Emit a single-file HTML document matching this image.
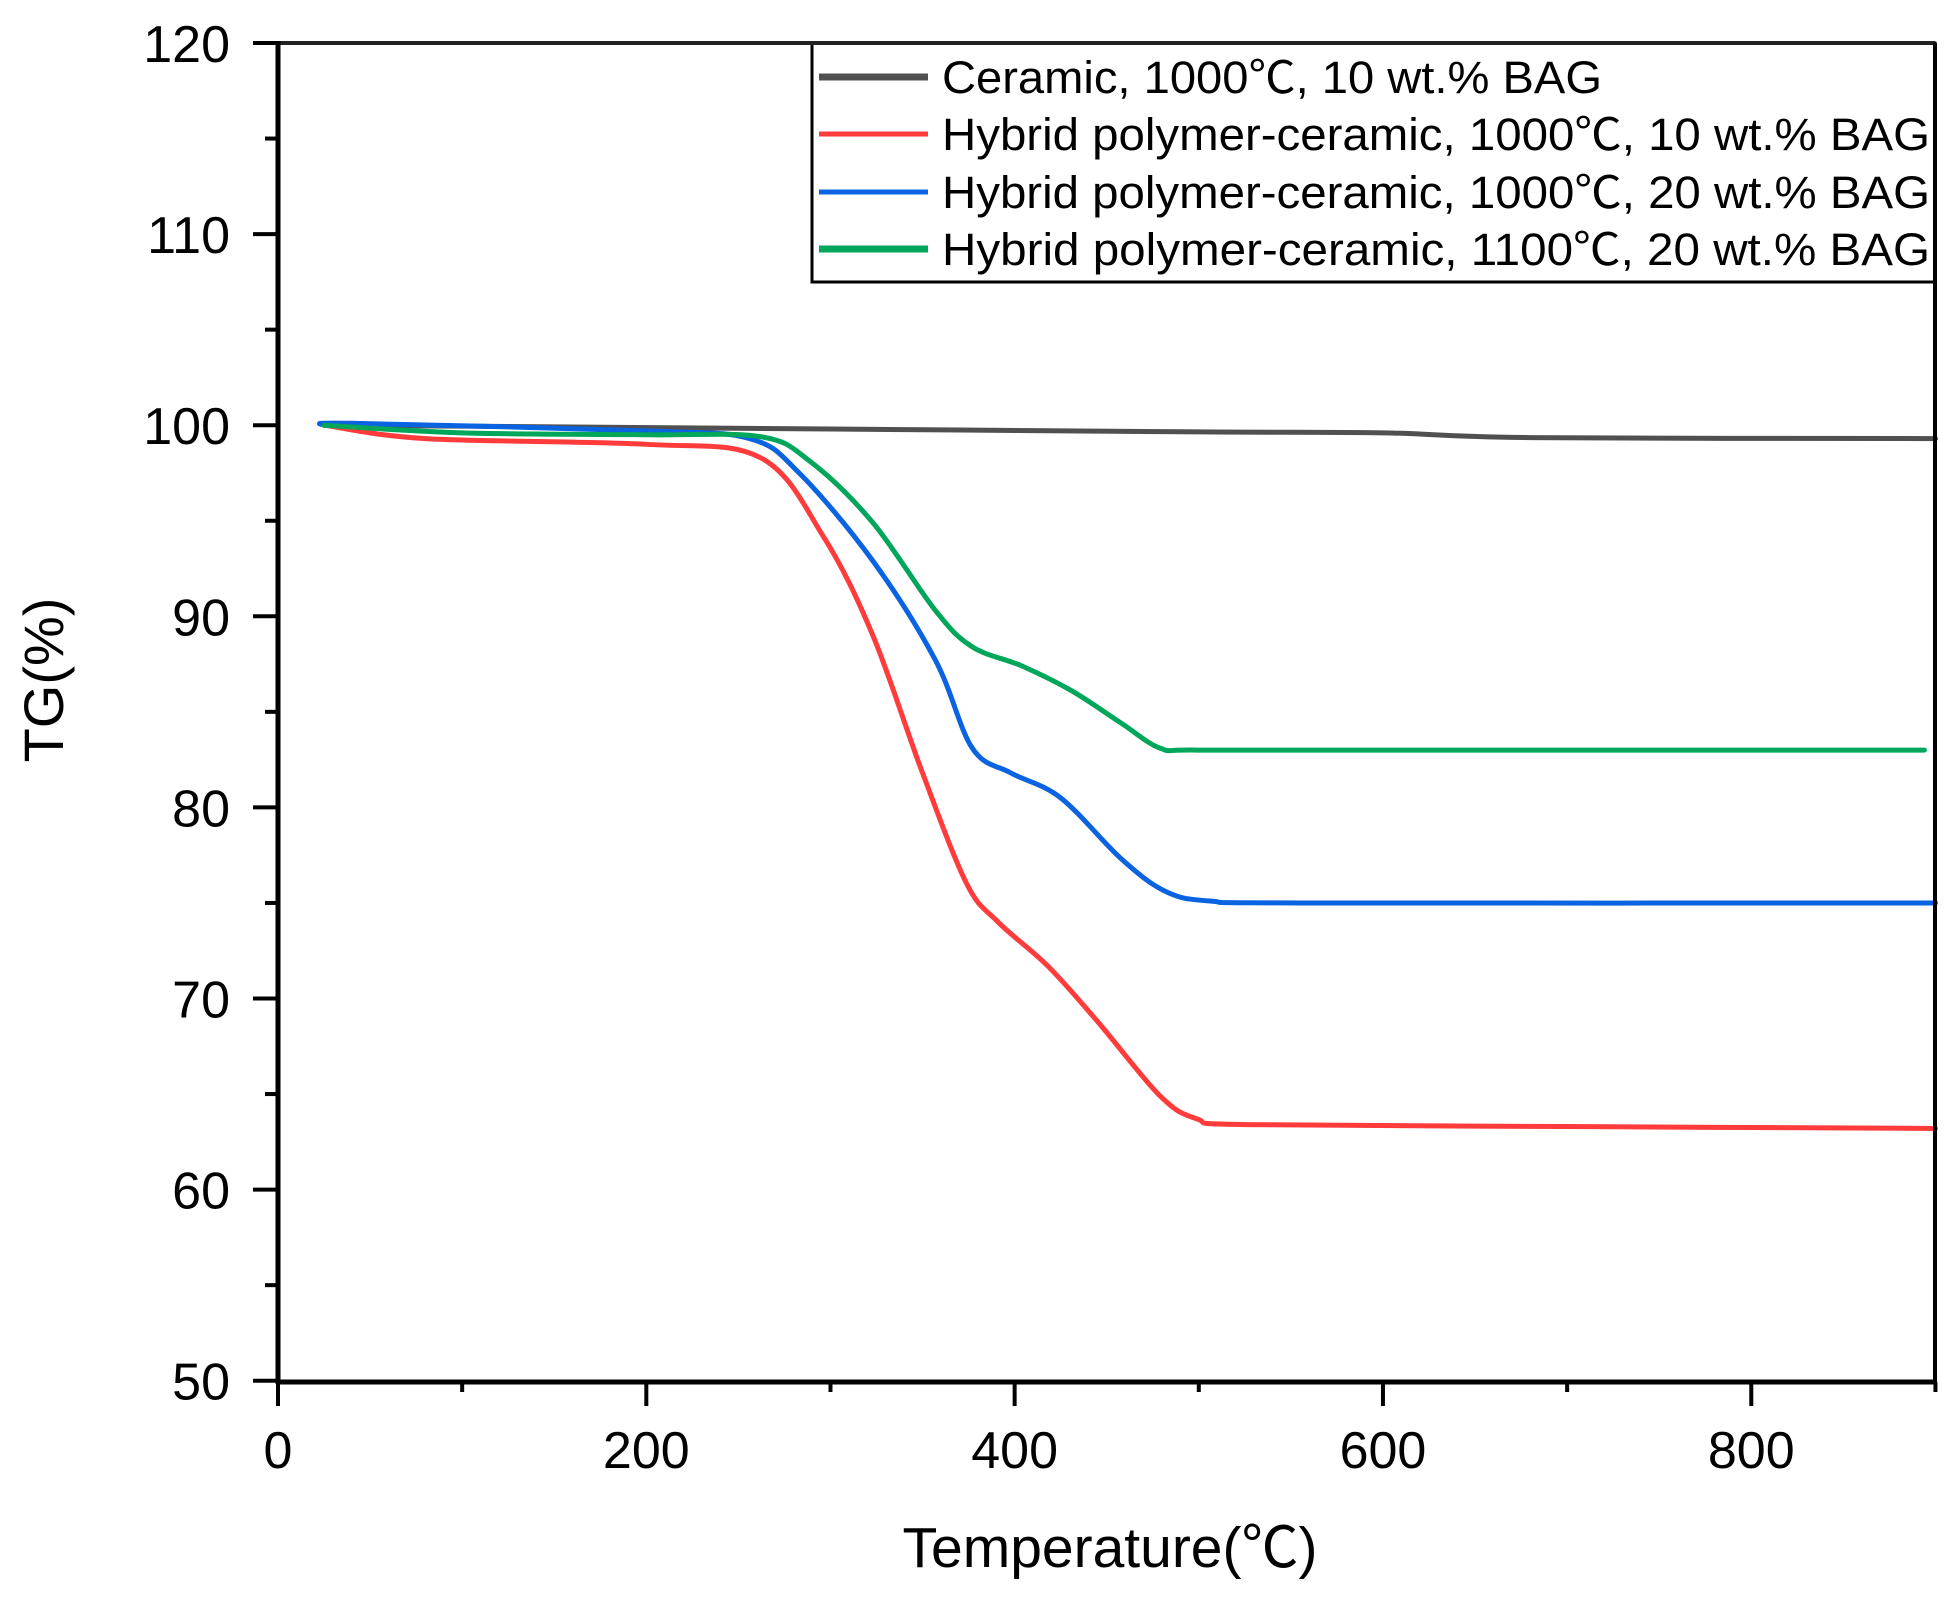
<!DOCTYPE html>
<html><head><meta charset="utf-8"><style>
html,body{margin:0;padding:0;background:#fff;}
svg{display:block;}
text{font-family:"Liberation Sans","Noto Sans CJK SC",sans-serif;fill:#000;}
</style></head><body>
<svg id="s" width="1954" height="1597" viewBox="0 0 1954 1597" xmlns="http://www.w3.org/2000/svg">
<g id="curves" fill="none" stroke-width="5" stroke-linejoin="round" stroke-linecap="round"></g>
<rect x="812" y="43" width="1123" height="239" fill="#fff" stroke="#000" stroke-width="3"/>
<line x1="278" y1="43" x2="1935" y2="43" stroke="#222" stroke-width="4"/>
<line x1="1935" y1="43" x2="1935" y2="1382" stroke="#000" stroke-width="4"/>
<line x1="278" y1="41" x2="278" y2="1384" stroke="#000" stroke-width="5"/>
<line x1="276" y1="1382" x2="1937" y2="1382" stroke="#000" stroke-width="5"/>
<g id="ticks" stroke="#000" stroke-width="4"></g>
<g id="labels" font-size="52"></g>
<text x="1110" y="1567" font-size="57" text-anchor="middle">Temperature(℃)</text>
<text transform="translate(63,680) rotate(-90)" font-size="56" text-anchor="middle">TG(%)</text>
<g stroke-width="7">
<line x1="819" y1="77" x2="928" y2="77" stroke="#505050"/>
<line x1="819" y1="134" x2="928" y2="134" stroke="#ff3b3b" stroke-width="5"/>
<line x1="819" y1="192" x2="928" y2="192" stroke="#0a63e0" stroke-width="5"/>
<line x1="819" y1="249" x2="928" y2="249" stroke="#00a65a"/>
</g>
<g font-size="45">
<text x="942" y="93" textLength="660" lengthAdjust="spacingAndGlyphs">Ceramic, 1000℃, 10 wt.% BAG</text>
<text x="942" y="150" textLength="988" lengthAdjust="spacingAndGlyphs">Hybrid polymer-ceramic, 1000℃, 10 wt.% BAG</text>
<text x="942" y="208" textLength="988" lengthAdjust="spacingAndGlyphs">Hybrid polymer-ceramic, 1000℃, 20 wt.% BAG</text>
<text x="942" y="265" textLength="988" lengthAdjust="spacingAndGlyphs">Hybrid polymer-ceramic, 1100℃, 20 wt.% BAG</text>
</g>
</svg>
<script>
var NS="http://www.w3.org/2000/svg";
function X(t){return 278+t*1.8416;}
function Y(v){return 43+(120-v)*19.11;}
function el(p,tag,a,txt){var e=document.createElementNS(NS,tag);for(var k in a)e.setAttribute(k,a[k]);if(txt!=null)e.textContent=txt;p.appendChild(e);return e;}
var tk=document.getElementById('ticks'),lb=document.getElementById('labels');
for(var v=50;v<=120;v+=5){var maj=v%10==0;el(tk,'line',{x1:278-(maj?25:13),y1:Y(v),x2:278,y2:Y(v)});
 if(maj)el(lb,'text',{x:230,y:Y(v)+19,'text-anchor':'end'},String(v));}
for(var t=0;t<=900;t+=100){var maj=t%200==0;el(tk,'line',{x1:X(t),y1:1382,x2:X(t),y2:1382+(maj?24:10)});
 if(maj)el(lb,'text',{x:X(t),y:1468,'text-anchor':'middle'},String(t));}
function path(pts){var P=pts.map(function(p){return[X(p[0]),Y(p[1])];});var d="M"+P[0][0]+","+P[0][1];
 for(var i=0;i<P.length-1;i++){var p0=P[i-1]||P[i],p1=P[i],p2=P[i+1],p3=P[i+2]||P[i+1];
 d+=" C"+(p1[0]+(p2[0]-p0[0])/6)+","+(p1[1]+(p2[1]-p0[1])/6)+" "+(p2[0]-(p3[0]-p1[0])/6)+","+(p2[1]-(p3[1]-p1[1])/6)+" "+p2[0]+","+p2[1];}return d;}
var S=[
["#505050",[[25,100],[100,99.95],[300,99.8],[500,99.65],[600,99.6],[680,99.35],[900,99.3]]],
["#ff3b3b",[[25,100],[80,99.3],[200,99],[262,98.3],[296,94.2],[323,89],[350,81.8],[374,76],[391,74],[418,71.7],[445,68.8],[479,64.9],[499,63.7],[526,63.4],[700,63.3],[900,63.2]]],
["#0a63e0",[[25,100],[40,100.1],[200,99.7],[256,99.3],[283,97.5],[323,92.9],[357,87.7],[377,83.1],[398,81.8],[425,80.5],[458,77.3],[482,75.6],[506,75.1],[560,75],[900,75]]],
["#00a65a",[[25,100],[100,99.6],[200,99.5],[262,99.4],[289,98.1],[323,94.9],[357,90.3],[377,88.4],[404,87.4],[431,86.1],[458,84.4],[479,83.1],[499,83],[600,83],[894,83]]]];
var g=document.getElementById('curves');
S.forEach(function(s){el(g,'path',{d:path(s[1]),stroke:s[0]});});
</script>
</body></html>
